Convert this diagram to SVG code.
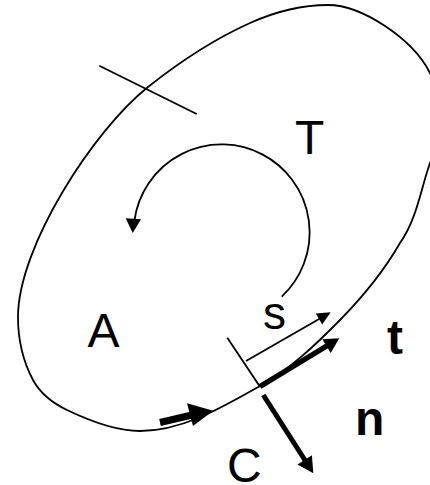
<svg xmlns="http://www.w3.org/2000/svg" width="430" height="485" viewBox="0 0 430 485">
<style>
.thin{fill:none;stroke:#000;stroke-width:1.8;stroke-linecap:butt}
.bold{fill:none;stroke:#000;stroke-linecap:butt}
.head{fill:#000;stroke:none}
.lbl{font-family:"Liberation Sans",Arial,sans-serif;font-size:48px;fill:#000}
.b{font-weight:bold}
</style>
<rect width="430" height="485" fill="#fff"/>
<g id="curve-C">
<path class="thin" d="M328,5 C362,5 413,39 430,73 C438,90 441,140 430,163 C421,188 417,219 400,243 C383.5,271.7 363,296.6 340,320 C315.5,344.9 290.5,368.9 260,386 C222.6,407 183,431 140,431 C115,431 89.5,420.8 67,410 C53.5,403.5 40,393 33,380 C22.7,360.6 18,339 18,317 C18,247 93.4,130.4 148,87 C179.2,62.2 213.6,39.4 250,23 C274.6,12 301,5 328,5 Z"/>
<line class="thin" x1="99.3" y1="65.7" x2="196.7" y2="114"/>
</g>
<g id="connectors">
<g id="circulation">
<path class="thin" d="M281.7,296.7 A88,88 0 1 0 134.5,220"/>
<polygon class="head" points="132.7,233 125.7,218.3 141,219.3"/>
</g>
<g id="orientation-arrow">
<line class="bold" x1="160" y1="422.5" x2="192" y2="415" stroke-width="7"/>
<polygon class="head" points="213.3,410.7 187,403.3 193,426"/>
</g>
<line class="thin" x1="227.3" y1="337.7" x2="260" y2="386.7"/>
<g id="s-arrow">
<line class="thin" x1="246" y1="361" x2="320" y2="318.5" stroke-width="1.6"/>
<polygon class="head" points="330.7,312.3 322.2,324.6 315.8,313.4"/>
</g>
<g id="t-arrow">
<line class="bold" x1="260" y1="386.5" x2="327.5" y2="345.5" stroke-width="5.5"/>
<polygon class="head" points="339.3,338.3 330.7,352.9 322.3,339.3"/>
</g>
<g id="n-arrow">
<line class="bold" x1="263.3" y1="395" x2="305.5" y2="461" stroke-width="5"/>
<polygon class="head" points="313.3,473.3 311.9,455.2 297.5,464.4"/>
</g>
</g>
<g id="labels">
<text class="lbl" x="295" y="154">T</text>
<text class="lbl" x="87.5" y="346.5">A</text>
<text class="lbl" x="263" y="328.5" style="font-size:46px">s</text>
<text class="lbl b" x="387" y="353.5">t</text>
<text class="lbl b" x="355" y="434.5">n</text>
<text class="lbl" x="227" y="482">C</text>
</g>
</svg>
